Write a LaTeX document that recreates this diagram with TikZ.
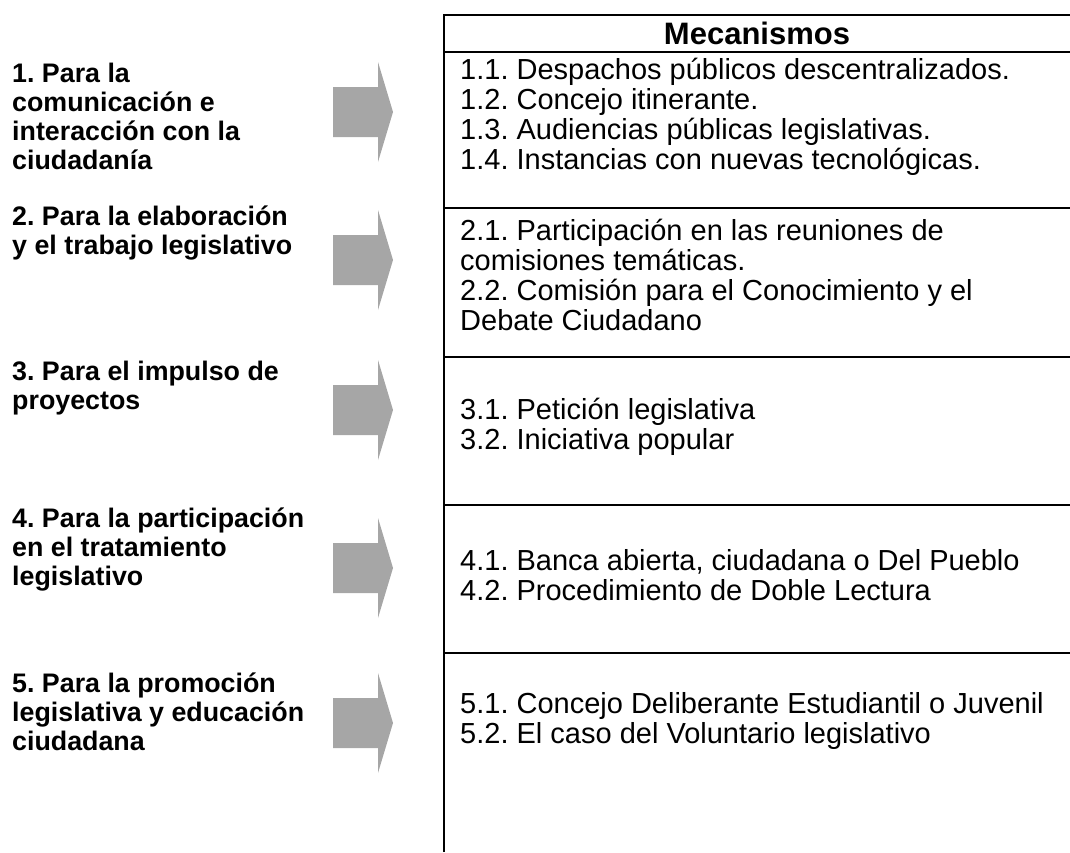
\documentclass[tikz,border=0pt]{standalone}
\usepackage{fontspec}
\setmainfont{Liberation Sans}
\usepackage{tikz}
\definecolor{arrowgray}{HTML}{A6A6A6}
\frenchspacing

\begin{document}
\begin{tikzpicture}[x=1pt,y=-1pt,
        rule/.style={line width=2.6pt},
        item/.style={anchor=west, align=left, inner sep=0pt,
            font=\fontsize{29}{30}\selectfont},
        group/.style={anchor=west, align=left, inner sep=0pt,
            font=\bfseries\fontsize{26.8}{29}\selectfont},
        block/.style={fill=arrowgray}]
        \useasboundingbox (0,0) rectangle (1070,852);

        % The table lines
        \draw[rule] (444,852) -- (444,15) -- (1070,15);
        \draw[rule] (444,52) -- (1070,52);
        \draw[rule] (444,208) -- (1070,208);
        \draw[rule] (444,357) -- (1070,357);
        \draw[rule] (444,505) -- (1070,505);
        \draw[rule] (444,653) -- (1070,653);

        % The header
        \node[font=\bfseries\fontsize{31}{31}\selectfont] (head) at (757,33) {Mecanismos};

        % Left words
        \node[group] (g1) at (12,116) {1. Para la\\comunicación e\\interacción con la\\ciudadanía};
        \node[group] (g2) at (12,233) {2. Para la elaboración\\y el trabajo legislativo};
        \node[group] (g3) at (12,388) {3. Para el impulso de\\proyectos};
        \node[group] (g4) at (12,550) {4. Para la participación\\en el tratamiento\\legislativo};
        \node[group] (g5) at (12,712) {5. Para la promoción\\legislativa y educación\\ciudadana};

        % The arrows
        \fill[block] (333,87) -- (378,87) -- (378,62) -- (393,112) -- (378,162) -- (378,137) -- (333,137) -- cycle;
        \fill[block] (333,235) -- (378,235) -- (378,210) -- (393,260) -- (378,310) -- (378,285) -- (333,285) -- cycle;
        \fill[block] (333,385) -- (378,385) -- (378,360) -- (393,410) -- (378,460) -- (378,435) -- (333,435) -- cycle;
        \fill[block] (333,543) -- (378,543) -- (378,518) -- (393,568) -- (378,618) -- (378,593) -- (333,593) -- cycle;
        \fill[block] (333,698) -- (378,698) -- (378,673) -- (393,723) -- (378,773) -- (378,748) -- (333,748) -- cycle;

        % Mechanisms in the table
        \node[item] (m1) at (460,117) {1.1. Despachos públicos descentralizados.\\1.2. Concejo itinerante.\\1.3. Audiencias públicas legislativas.\\1.4. Instancias con nuevas tecnológicas.};
        \node[item] (m2) at (460,275) {2.1. Participación en las reuniones de\\comisiones temáticas.\\2.2. Comisión para el Conocimiento y el\\Debate Ciudadano};
        \node[item] (m3) at (460,427) {3.1. Petición legislativa\\3.2. Iniciativa popular};
        \node[item] (m4) at (460,575) {4.1. Banca abierta, ciudadana o Del Pueblo\\4.2. Procedimiento de Doble Lectura};
        \node[item] (m5) at (460,721) {5.1. Concejo Deliberante Estudiantil o Juvenil\\5.2. El caso del Voluntario legislativo};
    \end{tikzpicture}
\end{document}
